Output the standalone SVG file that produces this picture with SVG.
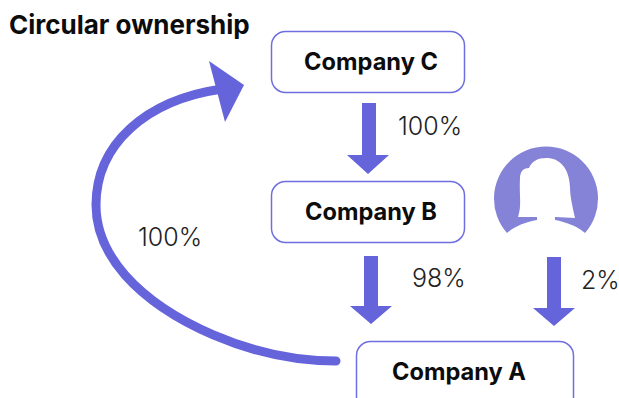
<svg xmlns="http://www.w3.org/2000/svg" width="619" height="398" viewBox="0 0 619 398">
<style>
text{font-family:"Inter","Liberation Sans",sans-serif;fill:#0c0c0c}
.t{font-weight:700;font-size:26px}
.n{font-weight:700;font-size:23.600px;text-anchor:middle}
.p{font-size:25px;font-weight:300;fill:#222}
.b{fill:#fff;stroke:#6f6ee0;stroke-width:1.5}
.a{fill:#6564db}
</style>
<rect width="619" height="398" fill="#fff"/>
<text class="t" x="9" y="34">Circular ownership</text>
<g id="company-c"><rect class="b" x="271.500" y="31.500" width="193" height="61" rx="14"/><text class="n" x="371" y="70">Company C</text></g>
<g id="company-b"><rect class="b" x="271.500" y="181.500" width="193" height="61" rx="14"/><text class="n" x="371" y="220">Company B</text></g>
<g id="company-a"><rect class="b" x="356.500" y="341.500" width="217" height="70" rx="14"/><text class="n" x="459" y="380">Company A</text></g>
<g id="person">
<path d="M507 233A52 52 0 1 1 585 233C577 226 566 222 555 220L555 217L575 218C572 205 570 195 570 187C569 168 560 158 546 158C538 158 532 161 529 168C523 168 520 172 520 178C519 195 522 205 518 217L537 217L537 220C526 222 515 226 507 233Z" fill="#8483d8"/>
</g>
<g id="connectors">
<polygon class="a" points="362,103 376,103 376,155 389,155 368,174 347,155 362,155"/>
<polygon class="a" points="364,256 378,256 378,306 392,306 371,324 350,306 364,306"/>
<polygon class="a" points="547,257 561,257 561,308 575,308 554,326 533,308 547,308"/>
<path d="M336 361C250 361 165 320 125 275C105 252 96 230 96 205C96 145 145 100 222 89" fill="none" stroke="#6564db" stroke-width="9" stroke-linecap="round"/>
<polygon class="a" points="209,61 244,85 225,122"/>
</g>
<text class="p" x="398" y="135">100%</text>
<text class="p" x="138" y="246">100%</text>
<text class="p" x="412" y="287">98%</text>
<text class="p" x="581" y="289">2%</text>
</svg>
